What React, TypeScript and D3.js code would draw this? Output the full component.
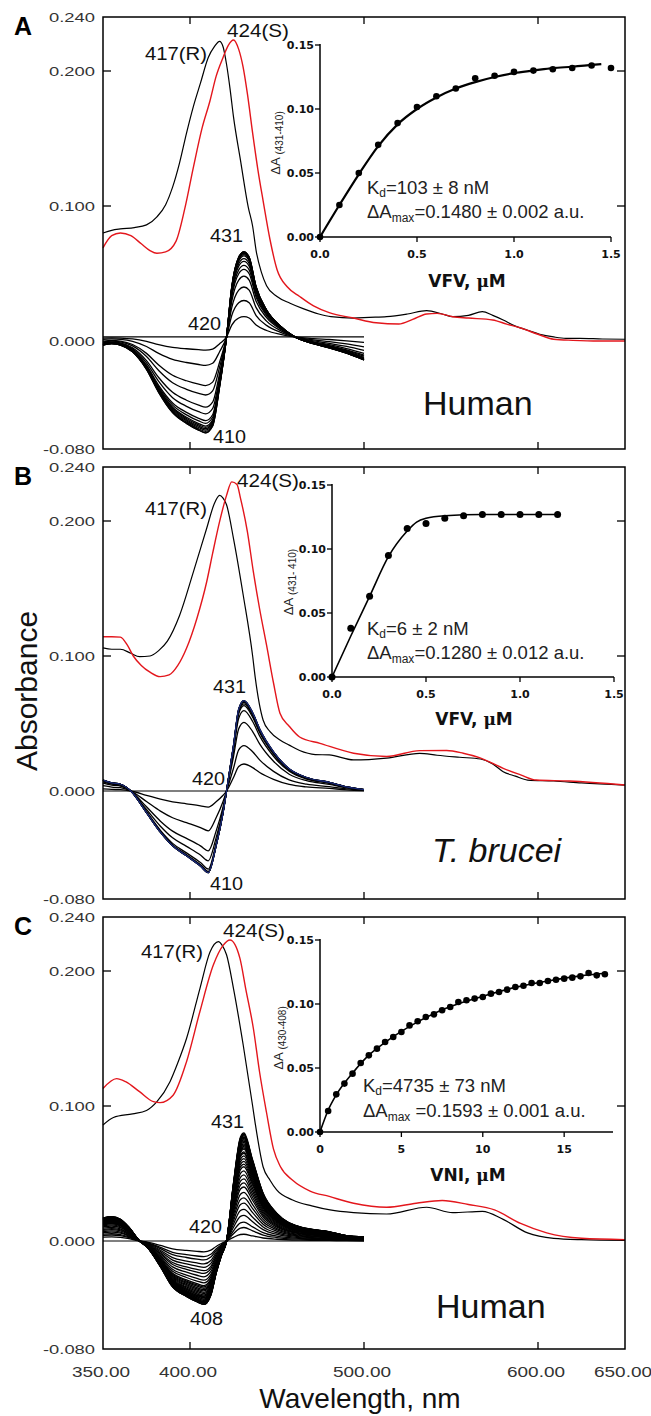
import * as d3 from "d3";
import React from "react";

// wavelength axis (shared by the three panels)
const wlTicks = [350, 400, 500, 600, 650];
const wlTickLabels = ["350.00", "400.00", "500.00", "600.00", "650.00"];
const absTicks = [0.24, 0.2, 0.1, 0, -0.08];
const absTickLabels = ["0.240", "0.200", "0.100", "0.000", "-0.080"];
const innerWlTicks = [400, 500, 600];
const innerAbsTicks = [0.2, 0.1];

// absolute spectra [nm, absorbance] : R = black, S = red
const humanVfvR = [[350, 0.080], [355, 0.082], [360, 0.083], [368, 0.084], [375, 0.086], [381, 0.092], [386, 0.101], [390, 0.114], [394, 0.132], [398, 0.154], [402, 0.174], [406, 0.191], [410.5, 0.210], [414, 0.218], [417, 0.222], [419, 0.218], [421, 0.205], [423, 0.187], [425, 0.166], [429, 0.134], [433.5, 0.099], [436, 0.085], [438, 0.067], [441, 0.051], [444, 0.041], [450, 0.033], [457.5, 0.028], [465, 0.024], [474, 0.020], [481, 0.018], [494, 0.017], [503, 0.0175], [513, 0.018], [525, 0.020], [536, 0.0225], [545, 0.020], [551, 0.018], [560, 0.019], [568, 0.0217], [574, 0.019], [580, 0.0156], [587, 0.011], [594, 0.008], [601, 0.005], [609, 0.003], [616, 0.002], [624, 0.002], [637, 0.0015], [650, 0.0013]];
const humanVfvS = [[350, 0.069], [355, 0.078], [360, 0.080], [366, 0.078], [372, 0.072], [377, 0.067], [381, 0.065], [386, 0.066], [392, 0.074], [397, 0.098], [402, 0.129], [407, 0.158], [411.5, 0.178], [415, 0.196], [419, 0.210], [422, 0.219], [425, 0.223], [428, 0.216], [430.5, 0.203], [433, 0.183], [436, 0.154], [439, 0.127], [442, 0.104], [446, 0.075], [450, 0.053], [456, 0.040], [463, 0.033], [471, 0.026], [480, 0.021], [494, 0.017], [507, 0.0135], [520, 0.0126], [528, 0.016], [536, 0.020], [542, 0.0205], [551, 0.018], [560, 0.017], [574, 0.0156], [582, 0.0125], [590, 0.0096], [600, 0.005], [609, 0.0013], [620, 0.0005], [635, 0], [650, 0]];
const bruceiVfvR = [[350, 0.106], [355, 0.105], [360, 0.105], [366, 0.102], [371, 0.0995], [377, 0.100], [382, 0.104], [387, 0.111], [394, 0.130], [402, 0.1625], [409.6, 0.1946], [414, 0.213], [417, 0.219], [419, 0.217], [421, 0.212], [425, 0.187], [430.6, 0.145], [436, 0.100], [437.5, 0.084], [442, 0.0526], [446, 0.044], [451.7, 0.0378], [457, 0.034], [463, 0.030], [472, 0.027], [480, 0.0267], [494, 0.023], [513, 0.0244], [532, 0.0279], [542, 0.0265], [555, 0.025], [567, 0.0237], [574, 0.020], [580, 0.0143], [587, 0.011], [594, 0.0081], [609, 0.0074], [625, 0.006], [650, 0.0044]];
const bruceiVfvS = [[350, 0.1143], [355, 0.1143], [360, 0.114], [364, 0.108], [367.4, 0.100], [372, 0.093], [377, 0.088], [382.8, 0.0847], [388, 0.086], [393, 0.093], [398, 0.1057], [404, 0.128], [409.6, 0.155], [413, 0.176], [417, 0.1995], [421, 0.219], [424, 0.229], [427, 0.227], [429, 0.217], [433, 0.192], [436.4, 0.1625], [440, 0.135], [444, 0.108], [448, 0.080], [451.7, 0.0576], [457, 0.048], [463, 0.040], [474.7, 0.0353], [494, 0.028], [513, 0.0256], [532, 0.0299], [547.5, 0.030], [557, 0.028], [566.7, 0.0245], [573, 0.021], [580, 0.0168], [590, 0.012], [599, 0.0081], [618, 0.0074], [650, 0.0044]];
const humanVniR = [[350, 0.0859], [356, 0.0915], [367, 0.0942], [375, 0.0967], [381, 0.1032], [388.5, 0.118], [393, 0.132], [398, 0.150], [405.7, 0.187], [411.5, 0.214], [416.3, 0.2217], [418.5, 0.219], [421, 0.212], [425, 0.187], [430.6, 0.145], [436, 0.100], [437.5, 0.087], [442, 0.055], [446, 0.045], [449.8, 0.0378], [459, 0.0304], [470, 0.026], [480.5, 0.023], [494, 0.021], [513, 0.020], [536, 0.025], [551, 0.021], [568, 0.022], [580, 0.016], [594, 0.006], [609, 0.002], [625, 0.001], [650, 0.0005]];
const humanVniS = [[350, 0.113], [357.8, 0.1203], [363, 0.118], [371, 0.1106], [379, 0.1032], [382.8, 0.1025], [390.3, 0.108], [398, 0.1328], [405.7, 0.170], [413.4, 0.2044], [419, 0.219], [423, 0.223], [428.7, 0.2094], [432, 0.187], [436.4, 0.1576], [440, 0.125], [444, 0.095], [448, 0.068], [452, 0.055], [459, 0.045], [469, 0.037], [480, 0.033], [494, 0.028], [513, 0.025], [530, 0.028], [545, 0.030], [560, 0.027], [575, 0.023], [590, 0.013], [605, 0.006], [625, 0.002], [650, 0.001]];

// difference spectra: shape of the largest curve, and trough / peak size of each titration step
const diffShapeA = [[350, -0.006], [355, -0.005], [360, -0.006], [367, -0.011], [375, -0.024], [382, -0.041], [390, -0.056], [398, -0.064], [405, -0.069], [409, -0.071], [413, -0.066], [417, -0.037], [421, 0], [424, 0.037], [428, 0.059], [431, 0.063], [434, 0.059], [438, 0.037], [444, 0.020], [452, 0.008], [459, 0.001], [471, -0.005], [480, -0.008], [490, -0.012], [500, -0.017]];
const troughsA = [-0.0097, -0.021, -0.036, -0.043, -0.052, -0.057, -0.062, -0.064, -0.066, -0.067, -0.068, -0.069, -0.070, -0.071, -0.071];
const peaksA = [0.015, 0.027, 0.037, 0.045, 0.050, 0.053, 0.056, 0.058, 0.060, 0.061, 0.062, 0.062, 0.063, 0.063, 0.063];
const diffShapeB = [[350, 0.008], [355, 0.006], [360, 0.005], [366, 0], [375, -0.016], [383, -0.0305], [390, -0.0406], [398, -0.048], [406, -0.0555], [410.5, -0.0605], [415, -0.0406], [419, -0.016], [421, 0], [425, 0.0336], [428, 0.0607], [431, 0.067], [436, 0.058], [440, 0.046], [448, 0.029], [457, 0.0164], [467, 0.010], [480, 0.0064], [490, 0.003], [500, 0.001]];
const troughsB = [-0.012, -0.0295, -0.0443, -0.0517, -0.0578, -0.0595, -0.060, -0.0605, -0.0605, -0.0605, -0.0605, -0.0605];
const peaksB = [0.020, 0.0336, 0.0509, 0.0595, 0.0632, 0.0645, 0.0657, 0.0663, 0.0667, 0.0669, 0.067, 0.067];
const diffShapeC = [[350, 0.017], [355, 0.018], [360, 0.016], [365, 0.010], [371, 0], [375, -0.004], [383, -0.019], [390, -0.034], [398, -0.041], [404, -0.045], [408, -0.047], [412, -0.040], [415, -0.024], [418, -0.011], [421, 0], [425, 0.043], [429, 0.077], [431, 0.080], [436, 0.060], [442, 0.0355], [450, 0.0205], [463, 0.0106], [480, 0.0069], [490, 0.004], [500, 0.003]];
const troughsC = [-0.008, -0.0116, -0.014, -0.017, -0.0195, -0.022, -0.024, -0.0265, -0.029, -0.031, -0.033, -0.034, -0.035, -0.036, -0.037, -0.038, -0.039, -0.040, -0.041, -0.041, -0.042, -0.042, -0.043, -0.043, -0.044, -0.044, -0.045, -0.045, -0.045, -0.046, -0.046, -0.046, -0.047, -0.047, -0.047];
const peaksC = [0.005, 0.010, 0.014, 0.019, 0.0235, 0.028, 0.032, 0.036, 0.040, 0.043, 0.046, 0.049, 0.052, 0.055, 0.057, 0.059, 0.061, 0.063, 0.065, 0.066, 0.068, 0.069, 0.070, 0.071, 0.072, 0.073, 0.074, 0.075, 0.076, 0.077, 0.077, 0.078, 0.079, 0.079, 0.080];
const baselines = [0.003, 0, 0];

// insets: titration points and fitted curves
const concA = [0, 0.1, 0.2, 0.3, 0.4, 0.5, 0.6, 0.7, 0.8, 0.9, 1.0, 1.1, 1.2, 1.3, 1.4, 1.5];
const deltaA = [0, 0.025, 0.050, 0.072, 0.089, 0.1016, 0.110, 0.116, 0.124, 0.126, 0.129, 0.130, 0.131, 0.132, 0.134, 0.132];
const fitConcA = [0, 0.1, 0.2, 0.3, 0.4, 0.5, 0.6, 0.7, 0.8, 0.9, 1.0, 1.1, 1.2, 1.3, 1.45];
const fitDeltaA = [0, 0.025, 0.049, 0.071, 0.088, 0.100, 0.109, 0.116, 0.121, 0.125, 0.128, 0.130, 0.132, 0.133, 0.135];
const concB = [0, 0.1, 0.2, 0.3, 0.4, 0.5, 0.6, 0.7, 0.8, 0.9, 1.0, 1.1, 1.2];
const deltaB = [0, 0.038, 0.063, 0.095, 0.116, 0.120, 0.124, 0.126, 0.127, 0.127, 0.127, 0.127, 0.127];
const fitConcB = [0, 0.1, 0.2, 0.3, 0.4, 0.45, 0.5, 0.6, 0.8, 1.2];
const fitDeltaB = [0, 0.032, 0.063, 0.094, 0.114, 0.121, 0.124, 0.126, 0.127, 0.127];
const concC = [0, 0.5, 1, 1.5, 2, 2.5, 3, 3.5, 4, 4.5, 5, 5.5, 6, 6.5, 7, 7.5, 8, 8.5, 9, 9.5, 10, 10.5, 11, 11.5, 12, 12.5, 13, 13.5, 14, 14.5, 15, 15.5, 16, 16.5, 17, 17.5];
const deltaC = [0, 0.0164, 0.0294, 0.0378, 0.0456, 0.0539, 0.0599, 0.0651, 0.0703, 0.0742, 0.0781, 0.0833, 0.0865, 0.0898, 0.0919, 0.0951, 0.0977, 0.1016, 0.1029, 0.1042, 0.1055, 0.1081, 0.1094, 0.1112, 0.1133, 0.1143, 0.1164, 0.1164, 0.1180, 0.1190, 0.1198, 0.1206, 0.1216, 0.1242, 0.1224, 0.1232];
const fitConcC = [0, 0.5, 1, 2, 3, 4, 6, 8, 10, 12, 14, 16, 17.5];
const fitDeltaC = [0, 0.017, 0.029, 0.046, 0.060, 0.070, 0.086, 0.098, 0.106, 0.113, 0.118, 0.122, 0.124];
const insetYTicks = [0, 0.05, 0.1, 0.15];

const FONT = "'Liberation Sans', Arial, Helvetica, sans-serif";
const BOLD_FONT = "'DejaVu Sans', Verdana, sans-serif";
const RED = "#e3161c";
const PLOT_L = 103;
const PLOT_R = 625;
const PLOT_H = 432;

const zip = (a: number[], b: number[]) => a.map((v, i) => [v, b[i]]);

function diffCurves(shape, troughs, peaks, base) {
  const tMin = d3.min(shape, (d) => d[1]);
  const tMax = d3.max(shape, (d) => d[1]);
  return troughs.map((t, i) =>
    shape.map(([w, v]) => [w, base + v * (w < 421 ? t / tMin : peaks[i] / tMax)])
  );
}

const panels = [
  {
    letter: "A", top: 17, r: humanVfvR, s: humanVfvS, shape: diffShapeA, troughs: troughsA, peaks: peaksA,
    species: "Human", italic: false, speciesPos: [423, 415],
    rPos: [207, 60], sPos: [227, 37], p431: [210, 242], p420: [188, 330], trough: ["410", 213, 443],
    inset: {
      x0: 320, x1: 611, y0: 237, y1: 45, dom: [0, 1.5], ticks: [0, 0.5, 1, 1.5], fmt: d3.format(".1f"),
      conc: concA, delta: deltaA, fitC: fitConcA, fitD: fitDeltaA, rad: 3.3, fitW: 2.2,
      xLabel: "VFV, ", xLabelPos: [467, 287], yLabel: "(431-410)", yLabelPos: [280, 143],
      kd: "=103 ± 8 nM", amax: "=0.1480 ± 0.002 a.u.", textPos: [367, 194, 218],
    },
  },
  {
    letter: "B", top: 467, r: bruceiVfvR, s: bruceiVfvS, shape: diffShapeB, troughs: troughsB, peaks: peaksB,
    species: "T. brucei", italic: true, speciesPos: [432, 862],
    rPos: [207, 515], sPos: [237, 487], p431: [213, 693], p420: [192, 785], trough: ["410", 210, 890],
    inset: {
      x0: 332, x1: 614, y0: 677, y1: 485, dom: [0, 1.5], ticks: [0, 0.5, 1, 1.5], fmt: d3.format(".1f"),
      conc: concB, delta: deltaB, fitC: fitConcB, fitD: fitDeltaB, rad: 3.5, fitW: 1.6,
      xLabel: "VFV, ", xLabelPos: [474, 725], yLabel: "(431- 410)", yLabelPos: [293, 582],
      kd: "=6 ± 2 nM", amax: "=0.1280 ± 0.012 a.u.", textPos: [367, 635, 659],
    },
  },
  {
    letter: "C", top: 917, r: humanVniR, s: humanVniS, shape: diffShapeC, troughs: troughsC, peaks: peaksC,
    species: "Human", italic: false, speciesPos: [436, 1318],
    rPos: [203, 958], sPos: [223, 937], p431: [211, 1128], p420: [189, 1233], trough: ["408", 190, 1325],
    inset: {
      x0: 320, x1: 613, y0: 1132, y1: 940, dom: [0, 18], ticks: [0, 5, 10, 15], fmt: d3.format("d"),
      conc: concC, delta: deltaC, fitC: fitConcC, fitD: fitDeltaC, rad: 3.3, fitW: 1.6,
      xLabel: "VNI, ", xLabelPos: [468, 1181], yLabel: "(430-408)", yLabelPos: [283, 1038],
      kd: "=4735 ± 73 nM", amax: " =0.1593 ± 0.001 a.u.", textPos: [363, 1092, 1117],
    },
  },
];

function Inset({ cfg }) {
  const x = d3.scaleLinear().domain(cfg.dom).range([cfg.x0, cfg.x1]);
  const y = d3.scaleLinear().domain([0, 0.15]).range([cfg.y0, cfg.y1]);
  const fit = d3.line().x((d) => x(d[0])).y((d) => y(d[1])).curve(d3.curveMonotoneX);
  const [tx, ty1, ty2] = cfg.textPos;
  return (
    <g>
      <line x1={cfg.x0} x2={cfg.x1} y1={cfg.y0} y2={cfg.y0} stroke="#000" strokeWidth={1.5} />
      <line x1={cfg.x0} x2={cfg.x0} y1={cfg.y0} y2={cfg.y1 - 1} stroke="#000" strokeWidth={1.5} />
      {cfg.ticks.map((t) => (
        <g key={"x" + t}>
          <line x1={x(t)} x2={x(t)} y1={cfg.y0} y2={cfg.y0 + 5} stroke="#000" strokeWidth={1.3} />
          <text x={x(t)} y={cfg.y0 + 21} textAnchor="middle" fontFamily={BOLD_FONT} fontWeight="bold" fontSize={11} fill="#111">
            {cfg.fmt(t)}
          </text>
        </g>
      ))}
      {insetYTicks.map((t) => (
        <g key={"y" + t}>
          <line x1={cfg.x0 - 5} x2={cfg.x0} y1={y(t)} y2={y(t)} stroke="#000" strokeWidth={1.3} />
          <text x={cfg.x0 - 6} y={y(t) + 4} textAnchor="end" fontFamily={BOLD_FONT} fontWeight="bold" fontSize={11} fill="#111">
            {d3.format(".2f")(t)}
          </text>
        </g>
      ))}
      <path d={fit(zip(cfg.fitC, cfg.fitD))} fill="none" stroke="#000" strokeWidth={cfg.fitW} />
      {cfg.conc.map((c, i) => (
        <circle key={i} cx={x(c)} cy={y(cfg.delta[i])} r={cfg.rad} fill="#000" />
      ))}
      <text x={cfg.xLabelPos[0]} y={cfg.xLabelPos[1]} textAnchor="middle" fontFamily={BOLD_FONT} fontWeight="bold" fontSize={17} fill="#111">
        {cfg.xLabel}
        <tspan fontFamily="'DejaVu Serif', serif">μ</tspan>M
      </text>
      <text transform={`translate(${cfg.yLabelPos[0]},${cfg.yLabelPos[1]}) rotate(-90)`} textAnchor="middle" fontFamily={FONT} fontSize={13} fill="#222">
        ΔA
        <tspan fontSize={10} dy={3}>{" " + cfg.yLabel}</tspan>
      </text>
      <text x={tx} y={ty1} fontFamily={FONT} fontSize={18.5} fill="#222">
        K<tspan fontSize={12} dy={3}>d</tspan>
        <tspan dy={-3}>{cfg.kd}</tspan>
      </text>
      <text x={tx} y={ty2} fontFamily={FONT} fontSize={18.5} fill="#222">
        ΔA<tspan fontSize={12} dy={4}>max</tspan>
        <tspan dy={-4}>{cfg.amax}</tspan>
      </text>
    </g>
  );
}

function Panel({ p, idx, last }) {
  const x = d3.scaleLinear().domain([350, 650]).range([PLOT_L, PLOT_R]);
  const y = d3.scaleLinear().domain([-0.08, 0.24]).range([p.top + PLOT_H, p.top]);
  const line = d3.line().x((d) => x(d[0])).y((d) => y(d[1])).curve(d3.curveMonotoneX);
  const base = baselines[idx];
  const diffs = diffCurves(p.shape, p.troughs, p.peaks, base);
  const ann = (txt, px, py, anchor = "start", len = undefined) => (
    <text x={px} y={py} textAnchor={anchor} fontFamily={FONT} fontSize={19} fill="#111"
      textLength={len} lengthAdjust={len ? "spacingAndGlyphs" : undefined}>{txt}</text>
  );
  return (
    <g>
      <text x={14} y={p.top + 18} fontFamily={FONT} fontWeight="bold" fontSize={25} fill="#000">{p.letter}</text>
      {/* difference spectra */}
      <line x1={x(350)} x2={x(500)} y1={y(base)} y2={y(base)} stroke="#000" strokeWidth={1.2} />
      {diffs.map((c, i) => (
        <path key={i} d={line(c)} fill="none"
          stroke={idx === 1 && i === diffs.length - 1 ? "#1a2a7a" : "#000"} strokeWidth={1.3} />
      ))}
      {/* absolute spectra */}
      <path d={line(p.r)} fill="none" stroke="#000" strokeWidth={1.2} />
      <path d={line(p.s)} fill="none" stroke={RED} strokeWidth={1.4} />
      {ann("417(R)", p.rPos[0], p.rPos[1], "end", 62)}
      {ann("424(S)", p.sPos[0], p.sPos[1], "start", 62)}
      {ann("431", p.p431[0], p.p431[1], "start", 33)}
      {ann("420", p.p420[0], p.p420[1], "start", 33)}
      {ann(p.trough[0], p.trough[1], p.trough[2], "start", 33)}
      <text x={p.speciesPos[0]} y={p.speciesPos[1]} fontFamily={FONT} fontSize={34}
        fontStyle={p.italic ? "italic" : "normal"} fill="#111">{p.species}</text>
      {/* frame and inner ticks */}
      <rect x={PLOT_L} y={p.top} width={PLOT_R - PLOT_L} height={PLOT_H} fill="none" stroke="#000" strokeWidth={1.5} />
      {innerWlTicks.map((t) => (
        <g key={"w" + t}>
          <line x1={x(t)} x2={x(t)} y1={p.top} y2={p.top + 7} stroke="#000" strokeWidth={1.3} />
          <line x1={x(t)} x2={x(t)} y1={p.top + PLOT_H} y2={p.top + PLOT_H - 7} stroke="#000" strokeWidth={1.3} />
        </g>
      ))}
      {innerAbsTicks.map((t) => (
        <g key={"a" + t}>
          <line x1={PLOT_L} x2={PLOT_L + 8} y1={y(t)} y2={y(t)} stroke="#000" strokeWidth={1.3} />
          <line x1={PLOT_R} x2={PLOT_R - 8} y1={y(t)} y2={y(t)} stroke="#000" strokeWidth={1.3} />
        </g>
      ))}
      {absTicks.map((t, i) => (
        <text key={"l" + t} x={95} y={y(t) + 4.5} textAnchor="end" fontFamily={FONT} fontSize={13} fill="#333"
          textLength={absTickLabels[i].length > 5 ? 52 : 46} lengthAdjust="spacingAndGlyphs">
          {absTickLabels[i]}
        </text>
      ))}
      {last && wlTicks.map((t, i) => (
        <text key={"x" + t} x={x(t) - 2} y={p.top + PLOT_H + 28} textAnchor="middle" fontFamily={FONT} fontSize={14} fill="#333"
          textLength={58} lengthAdjust="spacingAndGlyphs">
          {wlTickLabels[i]}
        </text>
      ))}
      <Inset cfg={p.inset} />
    </g>
  );
}

export default function App() {
  return (
    <svg width={651} height={1416} viewBox="0 0 651 1416"
      style={{ position: "absolute", left: 0, top: 0, background: "#fff" }}>
      <rect x={0} y={0} width={651} height={1416} fill="#fff" />
      {panels.map((p, i) => (
        <Panel key={p.letter} p={p} idx={i} last={i === panels.length - 1} />
      ))}
      <text transform="translate(37,691) rotate(-90)" textAnchor="middle" fontFamily={FONT} fontSize={30} fill="#111">
        Absorbance
      </text>
      <text x={360} y={1408} textAnchor="middle" fontFamily={FONT} fontSize={28} fill="#111">
        Wavelength, nm
      </text>
    </svg>
  );
}
